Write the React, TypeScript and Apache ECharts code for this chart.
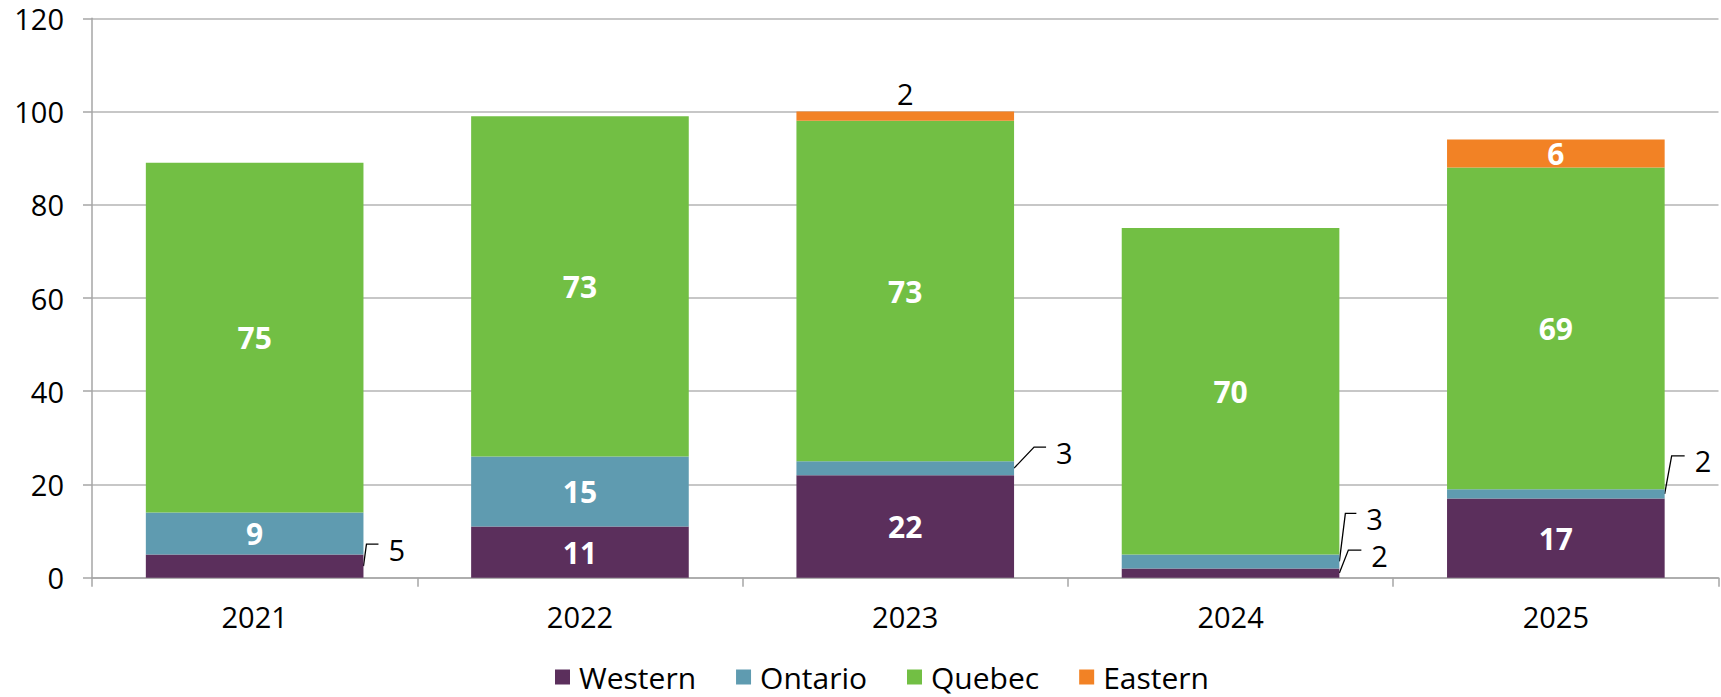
import React, { useEffect, useRef } from "react";
import * as echarts from "echarts";

const categories = ["2021", "2022", "2023", "2024", "2025"];
const western = [5, 11, 22, 2, 17];
const ontario = [9, 15, 3, 3, 2];
const quebec = [75, 73, 73, 70, 69];
const eastern = [0, 0, 2, 0, 6];
const yTicks = [0, 20, 40, 60, 80, 100, 120];

const seriesNames = ["Western", "Ontario", "Quebec", "Eastern"];
const seriesValues = [western, ontario, quebec, eastern];
const colors = ["#5b2f5c", "#5f9bb0", "#72bf44", "#f28225"];

// leader-line layout for small labels: [lineDx, lineDy, horizontalEndDx]
const leaderLayout: Record<string, number[]> = {
  "0-0": [3, -22, 15],
  "1-2": [20, -21, 32],
  "1-3": [6, -48, 17],
  "0-3": [9, -23, 22],
  "1-4": [7, -38, 20],
};

const FONT = "'Open Sans', 'Noto Sans', sans-serif";
const BAR_FRAC = 0.669;

export default function App() {
  const ref = useRef<HTMLDivElement>(null);
  useEffect(() => {
    if (!ref.current) return;
    const chart = echarts.init(ref.current, null, { renderer: "svg" });
    const series = seriesValues.map((vals, si) => ({
      name: seriesNames[si],
      type: "bar",
      stack: "total",
      barWidth: BAR_FRAC * 100 + "%",
      itemStyle: { color: colors[si] },
      data: vals.map((v) => {
        if (v >= 6) {
          return {
            value: v,
            label: {
              show: true,
              position: "inside",
              color: "#ffffff",
              fontWeight: "bold",
              fontSize: 30,
              fontFamily: FONT,
            },
          };
        }
        if (si === 3 && v > 0) {
          return {
            value: v,
            label: {
              show: true,
              position: "top",
              distance: 4,
              color: "#000",
              fontSize: 29,
              fontFamily: FONT,
            },
          };
        }
        return { value: v, label: { show: false } };
      }),
    }));
    const option: any = {
      animation: false,
      grid: { left: 92, right: 2.5, top: 18.3, bottom: 119.3 },
      legend: {
        data: seriesNames,
        left: 550,
        top: 657,
        itemWidth: 15,
        itemHeight: 15,
        itemGap: 40,
        icon: "rect",
        textStyle: { fontSize: 30, lineHeight: 30, fontFamily: FONT, color: "#000", padding: [0, 0, 0, 4] },
      },
      xAxis: {
        type: "category",
        data: categories,
        axisLine: { lineStyle: { color: "#a6a6a6", width: 1.5 } },
        axisTick: { show: true, length: 9, lineStyle: { color: "#a6a6a6", width: 1.5 } },
        axisLabel: { fontSize: 29, fontFamily: FONT, color: "#000", margin: 24 },
      },
      yAxis: {
        type: "value",
        min: yTicks[0],
        max: yTicks[yTicks.length - 1],
        interval: yTicks[1] - yTicks[0],
        axisLine: { show: true, lineStyle: { color: "#a6a6a6", width: 1.5 } },
        axisTick: { show: true, length: 9, lineStyle: { color: "#a6a6a6", width: 1.5 } },
        splitLine: { lineStyle: { color: "#b4b4b4", width: 1.5 } },
        axisLabel: { fontSize: 29, fontFamily: FONT, color: "#000", margin: 28 },
      },
      series,
    };
    chart.setOption(option);

    const p0 = chart.convertToPixel({ gridIndex: 0 }, [0, 0]) as number[];
    const p1 = chart.convertToPixel({ gridIndex: 0 }, [1, 0]) as number[];
    const catW = p1[0] - p0[0];
    const graphics: any[] = [];
    seriesValues.forEach((vals, si) => {
      if (si === 3) return;
      vals.forEach((v, ci) => {
        if (v >= 6) return;
        let base = 0;
        for (let k = 0; k < si; k++) base += seriesValues[k][ci];
        const pt = chart.convertToPixel({ gridIndex: 0 }, [ci, base + v / 2]) as number[];
        const xr = pt[0] + (catW * BAR_FRAC) / 2;
        const y = pt[1];
        const lay = leaderLayout[si + "-" + ci] || [6, -22, 18];
        graphics.push({
          type: "polyline",
          silent: true,
          shape: {
            points: [
              [xr, y],
              [xr + lay[0], y + lay[1]],
              [xr + lay[2], y + lay[1]],
            ],
          },
          style: { stroke: "#000", lineWidth: 1.3, fill: null },
        });
        graphics.push({
          type: "text",
          silent: true,
          x: xr + lay[2] + 10,
          y: y + lay[1] + 5,
          style: {
            text: String(v),
            fontSize: 29,
            fontFamily: FONT,
            fill: "#000",
            verticalAlign: "middle",
            align: "left",
          },
        });
      });
    });
    chart.setOption({ graphic: graphics });
    return () => chart.dispose();
  }, []);
  return (
    <div
      ref={ref}
      style={{ position: "fixed", left: 0, top: 0, width: 1721, height: 697, background: "#fff" }}
    />
  );
}
